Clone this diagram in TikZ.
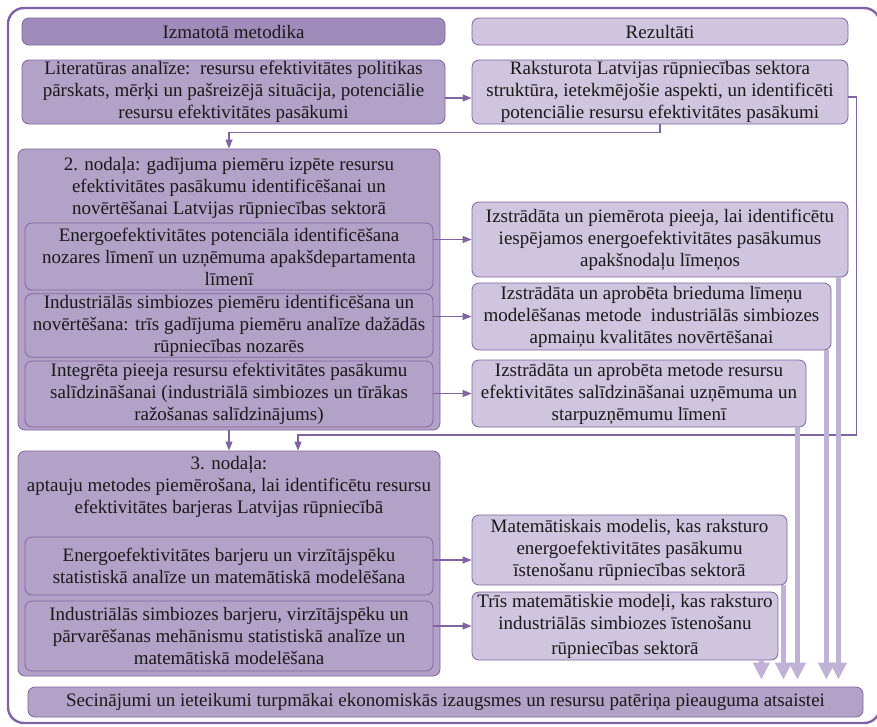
\documentclass[tikz,border=0pt]{standalone}
\usepackage{fontspec}
\setmainfont{Liberation Serif}
\usetikzlibrary{arrows.meta,positioning}
\definecolor{plum}{HTML}{8064A2}
\definecolor{lilac}{HTML}{B3A2C7}
\definecolor{lavender}{HTML}{CFC5DE}
\definecolor{heather}{HTML}{A08CBB}
\definecolor{pale}{HTML}{C0B2D6}

\begin{document}
\begin{tikzpicture}[
  x=1pt,y=-1pt,
  >=Triangle,
  flow/.style={-{Triangle[length=9pt,width=7pt]},line width=1.1pt,draw=plum},
  fat/.style={-{Triangle[length=17pt,width=16pt]},line width=4.2pt,draw=pale,
    shorten >=7pt},
  base/.style={draw=plum,line width=0.8pt,rounded corners=7pt,align=center,
    font=\fontsize{19}{22}\selectfont,inner sep=1pt,text=black!90},
  head/.style={base,fill=heather,minimum height=27pt},
  method/.style={base,fill=lilac},
  result/.style={base,fill=lavender},
  title/.style={align=center,font=\fontsize{19}{22}\selectfont,inner sep=0pt,
    text=black!90}
]
\useasboundingbox (0,0) rectangle (877,726);
\draw[plum,line width=2.4pt,rounded corners=16pt] (8,8) rectangle (880,723);

\node[head,minimum width=423pt] (methods) at (233.5,31.5) {Izmatotā metodika};
\node[result,minimum width=376pt,minimum height=27pt] (results) at (660,31.5)
  {Rezultāti};

\node[method,minimum width=423pt,minimum height=64pt] (lit) at (233.5,92)
  {Literatūras analīze:\ \ resursu efektivitātes politikas\\
   pārskats, mērķi un pašreizējā situācija, potenciālie\\
   resursu efektivitātes pasākumi};
\node[result,minimum width=376pt,minimum height=64pt] (litres) at (660,92)
  {Raksturota Latvijas rūpniecības sektora\\
   struktūra, ietekmējošie aspekti, un identificēti\\
   potenciālie resursu efektivitātes pasākumi};

\node[method,minimum width=422pt,minimum height=281pt] (ch2) at (229,289.5) {};
\node[title] (ch2title) at (229,188)
  {2. nodaļa: gadījuma piemēru izpēte resursu\\
   efektivitātes pasākumu identificēšanai un\\
   novērtēšanai Latvijas rūpniecības sektorā};
\node[method,minimum width=408pt,minimum height=67pt] (s21) at (229,256.5)
  {Energoefektivitātes potenciāla identificēšana\\
   nozares līmenī un uzņēmuma apakšdepartamenta\\
   līmenī};
\node[method,minimum width=408pt,minimum height=63pt] (s22) at (229,325.5)
  {Industriālās simbiozes piemēru identificēšana un\\
   novērtēšana: trīs gadījuma piemēru analīze dažādās\\
   rūpniecības nozarēs};
\node[method,minimum width=408pt,minimum height=66pt] (s23) at (229,394)
  {Integrēta pieeja resursu efektivitātes pasākumu\\
   salīdzināšanai (industriālā simbiozes un tīrākas\\
   ražošanas salīdzinājums)};

\node[result,minimum width=376pt,minimum height=75pt] (r21) at (660,239.5)
  {Izstrādāta un piemērota pieeja, lai identificētu\\
   iespējamos energoefektivitātes pasākumus\\
   apakšnodaļu līmeņos};
\node[result,minimum width=359pt,minimum height=67pt] (r22) at (651.5,316.5)
  {Izstrādāta un aprobēta brieduma līmeņu\\
   modelēšanas metode\ \ industriālās simbiozes\\
   apmaiņu kvalitātes novērtēšanai};
\node[result,minimum width=334pt,minimum height=67pt] (r23) at (639,393.5)
  {Izstrādāta un aprobēta metode resursu\\
   efektivitātes salīdzināšanai uzņēmuma un\\
   starpuzņēmumu līmenī};

\node[method,minimum width=422pt,minimum height=225pt] (ch3) at (229,563.5) {};
\node[title] (ch3title) at (229,487)
  {3. nodaļa:\\
   aptauju metodes piemērošana, lai identificētu resursu\\
   efektivitātes barjeras Latvijas rūpniecībā};
\node[method,minimum width=408pt,minimum height=58pt] (s31) at (229,566)
  {Energoefektivitātes barjeru un virzītājspēku\\
   statistiskā analīze un matemātiskā modelēšana};
\node[method,minimum width=408pt,minimum height=70pt] (s32) at (229,636)
  {Industriālās simbiozes barjeru, virzītājspēku un\\
   pārvarēšanas mehānismu statistiskā analīze un\\
   matemātiskā modelēšana};

\node[result,minimum width=315pt,minimum height=70pt] (r31) at (629.5,550)
  {Matemātiskais modelis, kas raksturo\\
   energoefektivitātes pasākumu\\
   īstenošanu rūpniecības sektorā};
\node[result,minimum width=306pt,minimum height=68pt] (r32) at (625,626)
  {Trīs matemātiskie modeļi, kas raksturo\\
   industriālās simbiozes īstenošanu\\[3pt]
   rūpniecības sektorā};

\node[method,minimum width=835pt,minimum height=30pt] (concl) at (445.5,702)
  {Secinājumi un ieteikumi turpmākai ekonomiskās izaugsmes un resursu patēriņa pieauguma atsaistei};

\coordinate (j3) at (298,435);
\draw[flow] ([yshift=-6pt]lit.east) -- ([yshift=-6pt]litres.west);
\draw[flow] (litres.south) -- ++(0,8) -| (ch2.north);
\draw[flow] ([yshift=-5pt]litres.east) -- ++(8,0) |- (j3) -- (j3 |- ch3.north);
\draw[flow] (ch2.south) -- (ch3.north);
\draw[flow] (s21.east |- r21.west) -- (r21.west);
\draw[flow] (s22.east |- r22.west) -- (r22.west);
\draw[flow] (s23.east |- r23.west) -- (r23.west);
\draw[flow] ([yshift=6pt]s31.east) -- ([yshift=6pt]s31.east -| r31.west);
\draw[flow] (s32.east |- r32.west) -- (r32.west);

\foreach \src/\dx in {r21/10,r22/5,r23/9,r31/4,r32/17}
  \draw[fat] ([xshift=-\dx pt]\src.south east)
    -- ([xshift=-\dx pt]\src.south east |- concl.north);
\end{tikzpicture}
\end{document}
